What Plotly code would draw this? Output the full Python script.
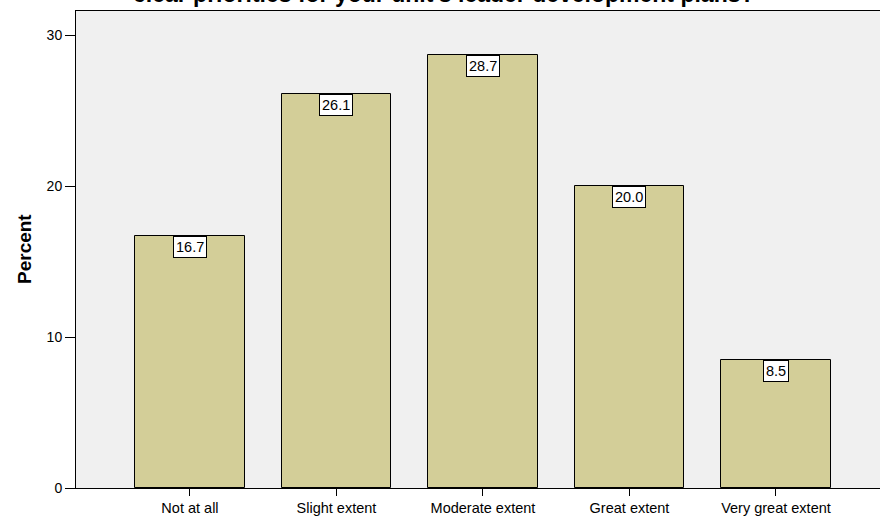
import plotly.graph_objects as go

categories = ["Not at all", "Slight extent", "Moderate extent", "Great extent", "Very great extent"]
percents = [16.7, 26.1, 28.7, 20.0, 8.5]
y_ticks = [0, 10, 20, 30]
title_text = "clear priorities for your unit's leader development plans?"
y_title = "Percent"

FONT = "Liberation Sans, Arial, sans-serif"
x_idx = list(range(len(categories)))

fig = go.Figure()
fig.add_trace(go.Bar(
    x=x_idx, y=percents, width=0.75,
    marker=dict(color="rgb(211,206,152)", line=dict(color="black", width=1)),
    hoverinfo="skip",
))

for i, v in zip(x_idx, percents):
    fig.add_annotation(
        x=i, y=v, xref="x", yref="y", text=f"{v:.1f}", showarrow=False,
        yanchor="top", xanchor="center",
        font=dict(family=FONT, size=14.5, color="black"),
        bgcolor="white", bordercolor="black", borderwidth=1, borderpad=2,
    )

fig.add_annotation(
    x=(444 - 76) / 804, y=1.005, xref="paper", yref="paper", text=f"<b>{title_text}</b>",
    showarrow=False, xanchor="center", yanchor="bottom",
    font=dict(family=FONT, size=23, color="black"),
)
fig.add_annotation(
    x=-(76 - 24.5) / 804, y=0.5, xref="paper", yref="paper", text=f"<b>{y_title}</b>",
    showarrow=False, xanchor="center", yanchor="middle", textangle=-90,
    font=dict(family=FONT, size=19, color="black"),
)

fig.update_layout(
    width=880, height=516,
    margin=dict(l=76, r=0, t=11, b=26, pad=0),
    paper_bgcolor="white", plot_bgcolor="#F0F0F0",
    showlegend=False, bargap=0,
    font=dict(family=FONT, size=14, color="black"),
)
fig.update_xaxes(
    range=[-0.778, 4.71], tickmode="array", tickvals=x_idx, ticktext=categories,
    showgrid=False, zeroline=False, showline=True, linecolor="black", linewidth=1,
    mirror=True, ticks="outside", ticklen=7, tickcolor="black", tickwidth=1,
    tickfont=dict(family=FONT, size=14.5, color="black"),
)
fig.update_yaxes(
    range=[0, 31.6], tickmode="array", tickvals=y_ticks,
    showgrid=False, zeroline=False, showline=True, linecolor="black", linewidth=1,
    ticks="outside", ticklen=10, tickcolor="black", tickwidth=1,
    tickfont=dict(family=FONT, size=14, color="black"),
)

fig.write_html(
    "out.html",
    config={"displayModeBar": False},
    post_script="document.body.style.margin='0';document.body.style.overflow='hidden';",
)
